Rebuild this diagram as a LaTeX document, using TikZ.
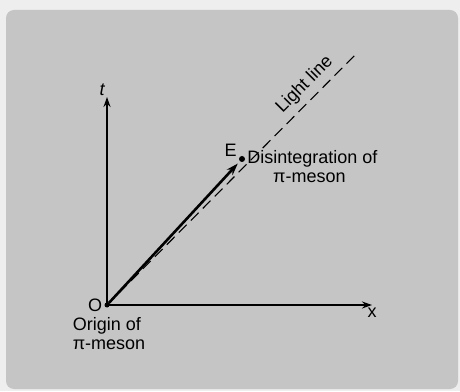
\documentclass[tikz,border=0pt]{standalone}
\usepackage{fontspec}
\setmainfont{Liberation Sans}
\usetikzlibrary{positioning,arrows.meta}
\definecolor{cPanel}{RGB}{197,197,197}
\definecolor{cPage}{RGB}{238,238,238}

\begin{document}
\begin{tikzpicture}[x=1pt,y=1pt,font=\fontsize{18}{21}\selectfont]
\tikzset{
 ax/.style={line width=1.4pt,-{Stealth[length=10pt,width=7pt]}},
 wl/.style={line width=2.6pt,shorten >=3pt,-{Stealth[length=12pt,width=8pt]}},
 lt/.style={line width=1.1pt,dash pattern=on 11pt off 6pt},
 pt/.style={circle,fill,inner sep=0,minimum size=#1},
 lb/.style={inner sep=0}
}
\fill[cPage] (0,0) rectangle (460,391);
\fill[cPanel,rounded corners=8pt] (6,2) rectangle (458,381);
% axes and light line
\node[pt=5pt] (o) at (107,86) {};
\node[pt=6pt] (e) at (242,232) {};
\coordinate (xe) at (372,86);
\coordinate (te) at (107,294);
\coordinate (le) at (358,339);
\draw[ax] (o.center) -- (xe);
\draw[ax] (o.center) -- (te);
\draw[lt] (o.center) -- (le) node[pos=0.83,sloped,above=6pt,lb] (ll) {Light line};
\draw[wl] (o) -- (e);
% labels
\node[lb,above=1pt of te,xshift=-5pt] (tl) {\itshape t};
\node[lb,below=3pt of xe] (xl) {x};
\node[lb,left=2pt of o] (ol) {O};
\node[lb,above left=0pt and 3pt of e] (el) {E};
\node[lb,right=2pt of e] (dis) {Disintegration of};
\node[lb,below=5pt of dis,xshift=-3pt] (dpi) {π-meson};
\node[lb,below=10pt of o] (org) {Origin of};
\node[lb,below=5pt of org,xshift=2pt] (opi) {π-meson};
\end{tikzpicture}
\end{document}
